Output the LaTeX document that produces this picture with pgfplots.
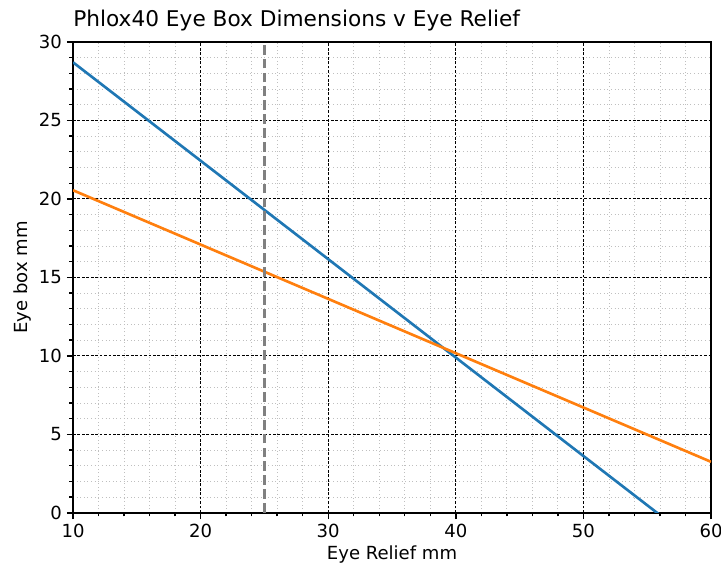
\documentclass[border=0pt]{standalone}
\usepackage{fontspec}
\setmainfont{DejaVu Sans}
\usepackage{pgfplots}
\pgfplotsset{compat=1.18}

\definecolor{mplblue}{HTML}{1F77B4}
\definecolor{mplorange}{HTML}{FF7F0E}

\begin{document}
\begin{tikzpicture}
\begin{axis}[
    scale only axis,
    width=459.4pt,
    height=339.1pt,
    xmin=10, xmax=60,
    ymin=0, ymax=30,
    xtick={10,20,...,60},
    ytick={0,5,...,30},
    minor x tick num=4,
    minor y tick num=4,
    tick align=outside,
    tick pos=left,
    major tick length=4.5pt,
    minor tick length=2.6pt,
    every tick/.style={black, line width=1pt},
    axis line style={line width=1pt},
    grid=both,
    major grid style={black, line width=0.6pt, dash pattern=on 2pt off 1.2pt},
    minor grid style={gray!50, line width=0.6pt, dotted},
    ticklabel style={font=\fontsize{13}{15}\selectfont},
    /pgf/number format/assume math mode=true,
    xlabel={Eye Relief mm},
    ylabel={Eye box mm},
    label style={font=\fontsize{13}{15}\selectfont},
    xlabel style={yshift=1pt},
    ylabel style={yshift=-1pt},
    title={Phlox40 Eye Box Dimensions v Eye Relief},
    title style={at={(0,1)}, anchor=south west, inner xsep=0pt, yshift=-2pt, font=\fontsize{15.6}{18}\selectfont},
]
\addplot[mplblue, line width=1.9pt] coordinates {(10,28.7) (60,-2.65)};
\addplot[mplorange, line width=1.9pt] coordinates {(10,20.55) (60,3.25)};
\addplot[gray, line width=1.9pt, dash pattern=on 7pt off 3pt] coordinates {(25,0) (25,30)};
\end{axis}
\pgfresetboundingbox
\path ([xshift=-52.6pt,yshift=-41pt]current axis.south west) rectangle ([xshift=7.2pt,yshift=30.2pt]current axis.north east);
\end{tikzpicture}
\end{document}
